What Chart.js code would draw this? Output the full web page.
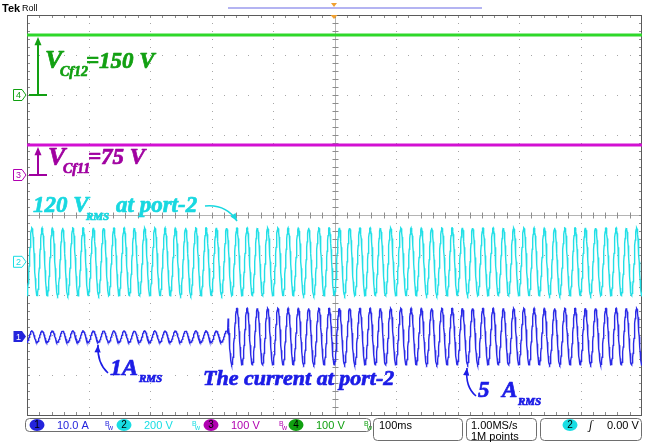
<!DOCTYPE html>
<html>
<head>
<meta charset="utf-8">
<script src="https://cdn.jsdelivr.net/npm/chart.js@4/dist/chart.umd.min.js"></script>
<style>
  html, body { margin: 0; padding: 0; background: #ffffff; }
  #wrap { position: relative; width: 647px; height: 443px; }
  canvas { display: block; }
</style>
</head>
<body>
<div id="wrap"><canvas id="scope" width="647" height="443"></canvas></div>
<script>
// Acquisition window and readings
const timeWindowMs = [0, 1000];          // 10 div x 100 ms/div, roll mode
const sampleStepMs = [0.5];
const lineFreqHz = [60];
const vCf12Volts = [150];                // ch4, DC
const vCf11Volts = [75];                 // ch3, DC
const port2VoltageRms = [120];           // ch2
const port2CurrentRms = [1, 5];          // ch1, before / after load step
const currentStepMs = [327];
const peakPhaseMs = [8];

// Channel settings shown in the readout
const channelIds = ['1', '2', '3', '4'];
const channelScaleText = ['10.0 A', '200 V', '100 V', '100 V'];
const unitsPerDiv = [10, 200, 100, 100];
const groundOffsetDiv = [-3.04, -1.17, 1, 3];
const timebaseText = ['100ms'];
const sampleRateText = ['1.00MS/s', '1M points'];
const triggerText = ['0.00 V'];

const chColors = ['#2424dc', '#19dde3', '#b000b0', '#10a010'];
const traceColors = ['#2a2ae6', '#22dfe6', '#d210d2', '#2ed82a'];

// ---- build traces ----
function sineTrace(rmsFn) {
  const pts = [];
  const w = 2 * Math.PI * lineFreqHz[0] / 1000;
  for (let t = timeWindowMs[0]; t <= timeWindowMs[1] + 1e-9; t += sampleStepMs[0]) {
    pts.push({ x: t, y: rmsFn(t) * Math.SQRT2 * Math.cos(w * (t - peakPhaseMs[0])) });
  }
  return pts;
}
const ch1Data = sineTrace(t => (t < currentStepMs[0] ? port2CurrentRms[0] : port2CurrentRms[1]));
const ch2Data = sineTrace(() => port2VoltageRms[0]);
const ch3Data = [{ x: timeWindowMs[0], y: vCf11Volts[0] }, { x: timeWindowMs[1], y: vCf11Volts[0] }];
const ch4Data = [{ x: timeWindowMs[0], y: vCf12Volts[0] }, { x: timeWindowMs[1], y: vCf12Volts[0] }];

function chScale(i) {
  return {
    type: 'linear', display: false,
    min: (-5 - groundOffsetDiv[i]) * unitsPerDiv[i],
    max: (5 - groundOffsetDiv[i]) * unitsPerDiv[i]
  };
}

// ---- graticule ----
const graticule = {
  id: 'graticule',
  beforeDatasetsDraw(chart) {
    const { ctx, chartArea: a } = chart;
    const L = a.left, R = a.right, T = a.top, B = a.bottom;
    const dx = (R - L) / 10, dy = (B - T) / 10;
    ctx.save();
    // dotted division lines
    ctx.fillStyle = '#a6a6a6';
    for (let i = 1; i < 10; i++) {
      if (i === 5) continue;
      const x = Math.round(L + i * dx);
      for (let k = 1; k < 50; k++) ctx.fillRect(x, Math.round(T + k * dy / 5), 1, 1);
      const y = Math.round(T + i * dy);
      for (let k = 1; k < 50; k++) ctx.fillRect(Math.round(L + k * dx / 5), y, 1, 1);
    }
    // center cross with minor ticks
    const cx = Math.round(L + 5 * dx) + 0.5, cy = Math.round(T + 5 * dy) + 0.5;
    ctx.strokeStyle = '#b4b4b4';
    ctx.lineWidth = 1;
    ctx.beginPath();
    ctx.moveTo(cx, T); ctx.lineTo(cx, B);
    ctx.moveTo(L, cy); ctx.lineTo(R, cy);
    ctx.stroke();
    ctx.strokeStyle = '#8c8c8c';
    ctx.beginPath();
    for (let k = 1; k < 50; k++) {
      const y = Math.round(T + k * dy / 5) + 0.5;
      ctx.moveTo(cx - 3, y); ctx.lineTo(cx + 3, y);
      const x = Math.round(L + k * dx / 5) + 0.5;
      ctx.moveTo(x, cy - 3); ctx.lineTo(x, cy + 3);
      // border ticks
      ctx.moveTo(L, y); ctx.lineTo(L + 3, y);
      ctx.moveTo(R, y); ctx.lineTo(R - 3, y);
      ctx.moveTo(x, T); ctx.lineTo(x, T + 3);
      ctx.moveTo(x, B); ctx.lineTo(x, B - 3);
    }
    ctx.stroke();
    // frame
    ctx.strokeStyle = '#5a5a5a';
    ctx.lineWidth = 1;
    ctx.strokeRect(L + 0.5, T + 0.5, R - L - 1, B - T);
    ctx.restore();
  }
};

// ---- annotations, markers and readout ----
function arrowHead(ctx, x, y, ang, size) {
  ctx.beginPath();
  ctx.moveTo(x, y);
  ctx.lineTo(x - size * Math.cos(ang - 0.4), y - size * Math.sin(ang - 0.4));
  ctx.lineTo(x - size * Math.cos(ang + 0.4), y - size * Math.sin(ang + 0.4));
  ctx.closePath();
  ctx.fill();
}
function curvedArrow(ctx, x0, y0, cx, cy, x1, y1, color) {
  ctx.strokeStyle = color; ctx.fillStyle = color; ctx.lineWidth = 1.6;
  ctx.beginPath(); ctx.moveTo(x0, y0); ctx.quadraticCurveTo(cx, cy, x1, y1); ctx.stroke();
  arrowHead(ctx, x1, y1, Math.atan2(y1 - cy, x1 - cx), 8);
}
// heavy italic serif text (fill plus a thin outline in the same colour)
function heavyText(ctx, text, x, y, font, color) {
  ctx.font = font;
  ctx.fillStyle = color; ctx.strokeStyle = color;
  ctx.lineWidth = 0.7; ctx.lineJoin = 'round';
  ctx.fillText(text, x, y);
  ctx.strokeText(text, x, y);
}
function groundMarker(ctx, y, id, color, filled) {
  ctx.save();
  ctx.beginPath();
  ctx.moveTo(13.5, y - 5.5); ctx.lineTo(22, y - 5.5); ctx.lineTo(26, y);
  ctx.lineTo(22, y + 5.5); ctx.lineTo(13.5, y + 5.5); ctx.closePath();
  if (filled) { ctx.fillStyle = color; ctx.fill(); }
  else { ctx.fillStyle = '#ffffff'; ctx.fill(); ctx.strokeStyle = color; ctx.lineWidth = 1; ctx.stroke(); }
  ctx.fillStyle = filled ? '#ffffff' : color;
  ctx.font = '9px "Liberation Sans"';
  ctx.textAlign = 'center'; ctx.textBaseline = 'middle';
  ctx.fillText(id, 18.5, y + 0.5);
  ctx.restore();
}
function roundBox(ctx, x, y, w, h, r) {
  ctx.beginPath();
  ctx.moveTo(x + r, y); ctx.lineTo(x + w - r, y); ctx.quadraticCurveTo(x + w, y, x + w, y + r);
  ctx.lineTo(x + w, y + h - r); ctx.quadraticCurveTo(x + w, y + h, x + w - r, y + h);
  ctx.lineTo(x + r, y + h); ctx.quadraticCurveTo(x, y + h, x, y + h - r);
  ctx.lineTo(x, y + r); ctx.quadraticCurveTo(x, y, x + r, y);
  ctx.stroke();
}
function badge(ctx, x, y, id, color) {
  ctx.fillStyle = color;
  ctx.beginPath(); ctx.ellipse(x, y, 7.5, 6, 0, 0, 2 * Math.PI); ctx.fill();
  ctx.fillStyle = '#000000';
  ctx.font = '10px "Liberation Sans"';
  ctx.textAlign = 'center'; ctx.textBaseline = 'middle';
  ctx.fillText(id, x, y + 0.5);
  ctx.textAlign = 'left'; ctx.textBaseline = 'alphabetic';
}

const overlay = {
  id: 'overlay',
  afterDraw(chart) {
    const ctx = chart.ctx;
    const y1 = chart.scales.y1, y2 = chart.scales.y2, y3 = chart.scales.y3, y4 = chart.scales.y4;
    ctx.save();

    // header
    ctx.fillStyle = '#000000';
    ctx.font = 'bold 11px "Liberation Sans"';
    ctx.fillText('Tek', 2, 12);
    ctx.font = '9px "Liberation Sans"';
    ctx.fillText('Roll', 22, 11);
    ctx.fillStyle = '#b4b4f2';
    ctx.fillRect(228, 7, 254, 2);
    ctx.fillStyle = '#f0a030';
    ctx.beginPath(); ctx.moveTo(331, 3); ctx.lineTo(337, 3); ctx.lineTo(334, 7); ctx.closePath(); ctx.fill();
    ctx.beginPath(); ctx.moveTo(330.5, 15); ctx.lineTo(337.5, 15); ctx.lineTo(334, 19); ctx.closePath(); ctx.fill();

    // ground markers
    groundMarker(ctx, y4.getPixelForValue(0), channelIds[3], chColors[3], false);
    groundMarker(ctx, y3.getPixelForValue(0), channelIds[2], chColors[2], false);
    groundMarker(ctx, y2.getPixelForValue(0), channelIds[1], chColors[1], false);
    groundMarker(ctx, y1.getPixelForValue(0), channelIds[0], chColors[0], true);

    // V_Cf12 arrow and label
    const g4 = y4.getPixelForValue(0), v4 = y4.getPixelForValue(vCf12Volts[0]);
    ctx.strokeStyle = '#12a012'; ctx.fillStyle = '#12a012'; ctx.lineWidth = 2;
    ctx.beginPath(); ctx.moveTo(29, g4); ctx.lineTo(47, g4); ctx.moveTo(38, g4); ctx.lineTo(38, v4 + 8); ctx.stroke();
    arrowHead(ctx, 38, v4 + 2, -Math.PI / 2, 9);
    heavyText(ctx, 'V', 45, 68, 'italic bold 26px "Liberation Serif"', '#12a012');
    heavyText(ctx, 'Cf12', 60, 76, 'italic bold 14px "Liberation Serif"', '#12a012');
    heavyText(ctx, '=150 V', 86, 68, 'italic bold 23px "Liberation Serif"', '#12a012');

    // V_Cf11 arrow and label
    const g3 = y3.getPixelForValue(0), v3 = y3.getPixelForValue(vCf11Volts[0]);
    ctx.strokeStyle = '#a000a0'; ctx.fillStyle = '#a000a0'; ctx.lineWidth = 2;
    ctx.beginPath(); ctx.moveTo(29, g3); ctx.lineTo(47, g3); ctx.moveTo(38, g3); ctx.lineTo(38, v3 + 8); ctx.stroke();
    arrowHead(ctx, 38, v3 + 2, -Math.PI / 2, 9);
    heavyText(ctx, 'V', 48, 165, 'italic bold 26px "Liberation Serif"', '#a000a0');
    heavyText(ctx, 'Cf11', 63, 173, 'italic bold 14px "Liberation Serif"', '#a000a0');
    heavyText(ctx, '=75 V', 88, 164, 'italic bold 23px "Liberation Serif"', '#a000a0');

    // port-2 voltage label
    heavyText(ctx, '120 V', 33, 212, 'italic bold 23px "Liberation Serif"', '#18d8e0');
    heavyText(ctx, 'RMS', 86, 220, 'italic bold 11px "Liberation Serif"', '#18d8e0');
    heavyText(ctx, 'at port-2', 116, 212, 'italic bold 23px "Liberation Serif"', '#18d8e0');
    curvedArrow(ctx, 205, 206, 226, 204, 237, 221, '#18d8e0');

    // port-2 current labels
    heavyText(ctx, '1A', 110, 375, 'italic bold 24px "Liberation Serif"', '#1c1ce6');
    heavyText(ctx, 'RMS', 139, 382, 'italic bold 11px "Liberation Serif"', '#1c1ce6');
    curvedArrow(ctx, 108, 373, 97, 363, 98, 345, '#1c1ce6');
    heavyText(ctx, 'The current at port-2', 203, 385, 'italic bold 22px "Liberation Serif"', '#1c1ce6');
    heavyText(ctx, '5', 478, 397, 'italic bold 23px "Liberation Serif"', '#1c1ce6');
    heavyText(ctx, 'A', 502, 397, 'italic bold 23px "Liberation Serif"', '#1c1ce6');
    heavyText(ctx, 'RMS', 518, 405, 'italic bold 11px "Liberation Serif"', '#1c1ce6');
    curvedArrow(ctx, 476, 396, 465, 387, 467, 368, '#1c1ce6');

    // readout bar
    ctx.strokeStyle = '#6e6e6e'; ctx.lineWidth = 1;
    roundBox(ctx, 25.5, 418.5, 345, 13, 4);
    roundBox(ctx, 373.5, 418.5, 89, 22, 4);
    roundBox(ctx, 466.5, 418.5, 70, 22, 4);
    roundBox(ctx, 540.5, 418.5, 101, 22, 4);
    const badgeX = [37, 124, 211, 296];
    [0, 1, 2, 3].forEach((i) => {
      badge(ctx, badgeX[i], 425, channelIds[i], chColors[i]);
      ctx.fillStyle = chColors[i];
      ctx.font = '11px "Liberation Sans"';
      ctx.fillText(channelScaleText[i], badgeX[i] + 20, 429);
      ctx.font = '7px "Liberation Sans"';
      ctx.fillText('B', badgeX[i] + 68, 426);
      ctx.fillText('w', badgeX[i] + 71, 430);
    });
    ctx.fillStyle = '#000000';
    ctx.font = '11px "Liberation Sans"';
    ctx.fillText(timebaseText[0], 379, 429);
    ctx.fillText(sampleRateText[0], 471, 429);
    ctx.fillText(sampleRateText[1], 471, 440);
    badge(ctx, 570, 425, channelIds[1], chColors[1]);
    ctx.fillStyle = '#000000';
    ctx.font = 'italic 12px "Liberation Serif"';
    ctx.fillText('\u0283', 589, 429);
    ctx.font = '11px "Liberation Sans"';
    ctx.fillText(triggerText[0], 607, 429);

    ctx.restore();
  }
};

new Chart(document.getElementById('scope'), {
  type: 'line',
  data: {
    datasets: [
      { label: 'Vcf12', data: ch4Data, yAxisID: 'y4', borderColor: traceColors[3], borderWidth: 2.8 },
      { label: 'Vcf11', data: ch3Data, yAxisID: 'y3', borderColor: traceColors[2], borderWidth: 2.8 },
      { label: 'Port-2 voltage', data: ch2Data, yAxisID: 'y2', borderColor: traceColors[1], borderWidth: 1.4 },
      { label: 'Port-2 current', data: ch1Data, yAxisID: 'y1', borderColor: traceColors[0], borderWidth: 1.4 }
    ]
  },
  options: {
    responsive: false,
    animation: false,
    parsing: false,
    normalized: true,
    layout: { padding: { left: 27, right: 5, top: 15, bottom: 28 } },
    elements: { point: { radius: 0 }, line: { tension: 0 } },
    scales: {
      x: { type: 'linear', display: false, min: timeWindowMs[0], max: timeWindowMs[1] },
      y1: chScale(0),
      y2: chScale(1),
      y3: chScale(2),
      y4: chScale(3)
    },
    plugins: { legend: { display: false }, tooltip: { enabled: false } }
  },
  plugins: [graticule, overlay]
});
</script>
</body>
</html>
